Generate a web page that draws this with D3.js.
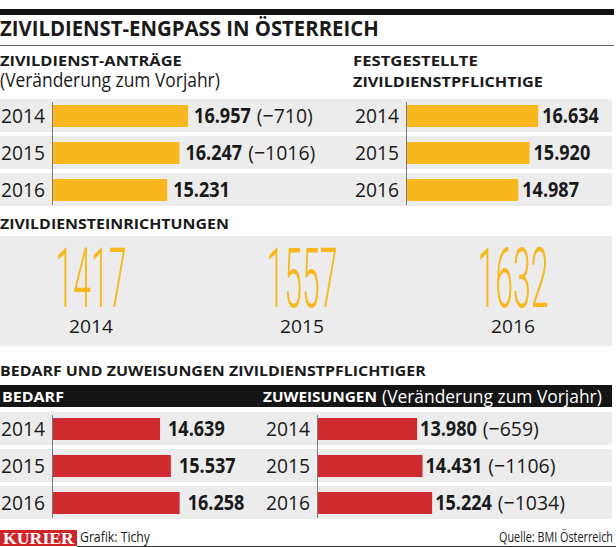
<!DOCTYPE html>
<html><head><meta charset="utf-8">
<script src="https://cdn.jsdelivr.net/npm/d3@7"></script>
<style>
body{margin:0;background:#fff;}
text{font-family:"Open Sans",sans-serif;fill:#1a1a1a;}
</style></head>
<body><svg id="c" width="616" height="547"></svg>
<script>
// ---- data ----
const years = ["2014", "2015", "2016"];
const antraege = [16957, 16247, 15231];
const antraegeChange = [-710, -1016, null];
const festgestellte = [16634, 15920, 14987];
const einrichtungen = [1417, 1557, 1632];
const bedarf = [14639, 15537, 16258];
const zuweisungen = [13980, 14431, 15224];
const zuweisungenChange = [-659, -1106, -1034];

const YEL = "#f7b71d", RED = "#cf2a2f", GRAY = "#ececec";
const loc = d3.formatLocale({decimal: ",", thousands: ".", grouping: [3], currency: ["", "€"], minus: "\u2212"});
const fmtVal = loc.format(",d");
const fmtChg = v => "(" + loc.format("d")(v) + ")";

const svg = d3.select("#c");
// horizontal squeeze through a transform: returns final width
function squeezeTo(t, x, y, sx) {
  t.attr("x", 0).attr("y", 0).attr("transform", `translate(${x},${y}) scale(${sx},1)`);
}
function txt(x, y, s, size, weight, opts = {}) {
  const t = svg.append("text").attr("x", x).attr("y", y).text(s)
    .style("font-size", size + "px").style("font-weight", weight);
  if (opts.anchor) t.attr("text-anchor", opts.anchor);
  if (opts.fill) t.style("fill", opts.fill);
  if (opts.family) t.style("font-family", opts.family);
  const L = t.node().getComputedTextLength();
  let w = L;
  if (opts.w) { squeezeTo(t, x, y, opts.w / L); w = opts.w; }
  else if (opts.f) { squeezeTo(t, x, y, opts.f); w = L * opts.f; }
  t.property("__w", w);
  return t;
}

// shared value scale (bar length)
const x = d3.scaleLinear().domain([5700, 17000]).range([0, 136.6]);

// ---- header ----
svg.append("rect").attr("x", 0).attr("y", 9).attr("width", 614).attr("height", 6).attr("fill", "#111");
txt(0, 36, "ZIVILDIENST-ENGPASS IN ÖSTERREICH", 21, 700, {w: 379});
svg.append("line").attr("x1", 0).attr("x2", 614).attr("y1", 45.5).attr("y2", 45.5).attr("stroke", "#666").attr("stroke-width", 1);

txt(0, 66, "ZIVILDIENST-ANTRÄGE", 15, 700, {w: 182});
txt(0, 87, "(Veränderung zum Vorjahr)", 20, 400, {w: 220});
txt(353, 66, "FESTGESTELLTE", 15, 700, {w: 125});
txt(353, 87, "ZIVILDIENSTPFLICHTIGE", 15, 700, {w: 190});

// ---- bar chart helper ----
function barChart(yRange, x0, values, changes, color, labelGap, drawRows) {
  const y = d3.scaleBand().domain(years).range(yRange).padding(0);
  if (drawRows) {
    svg.append("g").selectAll("rect").data(years).join("rect")
      .attr("x", 0).attr("y", d => y(d) + 1).attr("width", 612).attr("height", y.bandwidth() - 4)
      .attr("fill", GRAY);
  }
  const g = svg.append("g");
  g.selectAll("rect").data(values).join("rect")
    .attr("x", x0).attr("y", (d, i) => y(years[i]) + 7)
    .attr("width", d => x(d)).attr("height", 22).attr("fill", color);
  g.append("line").attr("x1", x0 + 0.5).attr("x2", x0 + 0.5)
    .attr("y1", yRange[0] + 4).attr("y2", yRange[1] - 4).attr("stroke", "#7a7a7a").attr("stroke-width", 1);
  years.forEach((yr, i) => {
    const by = y(yr) + 25;
    txt(x0 - 7, by, yr, 20.5, 400, {anchor: "end", w: 44});
    const vx = x0 + x(values[i]) + labelGap;
    const t = txt(vx, by, fmtVal(values[i]), 20.5, 700, {f: 0.88});
    if (changes && changes[i] != null) {
      const w = t.property("__w");
      txt(vx + w + 6, by, fmtChg(changes[i]), 20.5, 400, {f: 0.95});
    }
  });
}

barChart([98, 209], 52, antraege, antraegeChange, YEL, 6, true);
barChart([98, 209], 406, festgestellte, null, YEL, 4, false);

// ---- Zivildiensteinrichtungen ----
txt(0, 229, "ZIVILDIENSTEINRICHTUNGEN", 15, 700, {w: 229});
svg.append("rect").attr("x", 0).attr("y", 236).attr("width", 612).attr("height", 110).attr("fill", GRAY);
const cx = d3.scalePoint().domain(years).range([91, 513]);
svg.append("g").selectAll("text").data(einrichtungen).join("text")
  .attr("transform", (d, i) => `translate(${cx(years[i])},307) scale(0.38,1)`)
  .attr("text-anchor", "middle")
  .text(d => d)
  .style("font-family", "Roboto, sans-serif").style("font-weight", 300)
  .style("font-size", "84px").style("fill", YEL);
years.forEach(yr => txt(cx(yr), 333, yr, 19, 400, {anchor: "middle", w: 44}));

// ---- Bedarf und Zuweisungen ----
txt(0, 376, "BEDARF UND ZUWEISUNGEN ZIVILDIENSTPFLICHTIGER", 15, 700, {w: 426});
svg.append("rect").attr("x", 0).attr("y", 385).attr("width", 612).attr("height", 22).attr("fill", "#141414");
txt(2, 402, "BEDARF", 15, 700, {fill: "#fff", w: 62});
txt(263, 402, "ZUWEISUNGEN", 15, 700, {fill: "#fff", w: 114});
txt(382, 403, "(Veränderung zum Vorjahr)", 18, 400, {fill: "#fff", w: 220});

barChart([411, 522], 52, bedarf, null, RED, 8, true);
barChart([411, 522], 317, zuweisungen, zuweisungenChange, RED, 3, false);

// ---- footer ----
svg.append("rect").attr("x", 0).attr("y", 530).attr("width", 77).attr("height", 16).attr("fill", "#d0232a");
txt(3, 543.5, "KURIER", 17, 700, {fill: "#fff", family: "'Liberation Serif', serif", w: 71});
txt(80, 542, "Grafik: Tichy", 15, 400, {w: 70});
txt(613, 542, "Quelle: BMI Österreich", 15, 400, {anchor: "end", w: 114});
svg.append("line").attr("x1", 77).attr("x2", 616).attr("y1", 546.5).attr("y2", 546.5).attr("stroke", "#333").attr("stroke-width", 1);
</script></body></html>
